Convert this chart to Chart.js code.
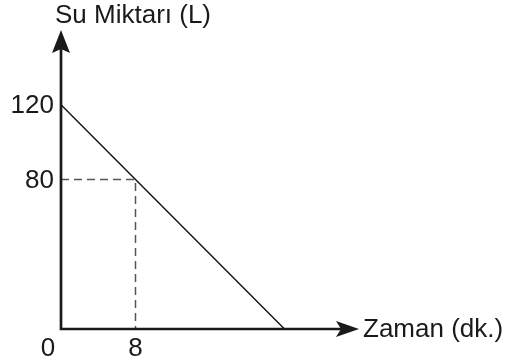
<!DOCTYPE html>
<html>
<head>
<meta charset="utf-8">
<script src="https://cdn.jsdelivr.net/npm/chart.js@4/dist/chart.umd.min.js"></script>
<style>
  html, body { margin: 0; padding: 0; background: #fff; }
  #wrap { width: 521px; height: 363px; position: relative; }
</style>
</head>
<body>
<div id="wrap"><canvas id="c" width="521" height="363"></canvas></div>
<script>
// ---- data ----
const timeValues = [0, 24];          // Zaman (dk.)
const waterValues = [120, 0];        // Su Miktarı (L)
const markTime = 8;
const markWater = 80;
const xTickValues = [8];
const yTickValues = [80, 120];
const originLabel = '0';
const yAxisTitle = 'Su Miktarı (L)';
const xAxisTitle = 'Zaman (dk.)';

const FONT = '26px "Liberation Sans", Arial, sans-serif';
const INK = '#1a1a1a';

const axesPlugin = {
  id: 'axesPlugin',
  afterDatasetsDraw(chart) {
    const ctx = chart.ctx;
    const xs = chart.scales.x, ys = chart.scales.y;
    const x0 = xs.getPixelForValue(0), y0 = ys.getPixelForValue(0);
    const xEnd = xs.right, yEnd = ys.top;
    ctx.save();
    // axis lines
    ctx.strokeStyle = INK; ctx.lineWidth = 2.7; ctx.lineCap = 'butt';
    ctx.beginPath();
    ctx.moveTo(x0, y0 + 1.35); ctx.lineTo(x0, yEnd + 18);
    ctx.moveTo(x0 - 1.35, y0); ctx.lineTo(xEnd - 18, y0);
    ctx.stroke();
    // arrow heads
    ctx.fillStyle = INK;
    ctx.beginPath();
    ctx.moveTo(x0, yEnd);
    ctx.lineTo(x0 + 9, yEnd + 23);
    ctx.lineTo(x0, yEnd + 19);
    ctx.lineTo(x0 - 9, yEnd + 23);
    ctx.closePath(); ctx.fill();
    ctx.beginPath();
    ctx.moveTo(xEnd, y0);
    ctx.lineTo(xEnd - 23, y0 - 8);
    ctx.lineTo(xEnd - 18, y0);
    ctx.lineTo(xEnd - 23, y0 + 8);
    ctx.closePath(); ctx.fill();
    // texts
    ctx.font = FONT; ctx.fillStyle = INK;
    ctx.textBaseline = 'middle';
    ctx.textAlign = 'right';
    yTickValues.forEach(v => ctx.fillText(String(v), x0 - 7, ys.getPixelForValue(v) + 1));
    ctx.textAlign = 'center';
    xTickValues.forEach(v => ctx.fillText(String(v), xs.getPixelForValue(v), y0 + 20));
    ctx.fillText(originLabel, x0 - 13, y0 + 20);
    ctx.fillText(yAxisTitle, x0 + 72, 16);
    ctx.textAlign = 'left';
    ctx.fillText(xAxisTitle, xEnd + 4, y0 + 1);
    ctx.restore();
  }
};

new Chart(document.getElementById('c'), {
  type: 'scatter',
  data: {
    datasets: [
      {
        data: timeValues.map((t, i) => ({ x: t, y: waterValues[i] })),
        showLine: true, borderColor: '#111', borderWidth: 1.4, pointRadius: 0, fill: false
      },
      {
        data: [{ x: 0, y: markWater }, { x: markTime, y: markWater }, { x: markTime, y: 0 }],
        showLine: true, borderColor: '#555', borderWidth: 1.5, borderDash: [8, 5], pointRadius: 0, fill: false
      }
    ]
  },
  options: {
    responsive: false,
    animation: false,
    layout: { padding: { left: 61, right: 162, top: 30, bottom: 34 } },
    plugins: { legend: { display: false }, tooltip: { enabled: false } },
    scales: {
      x: { type: 'linear', min: 0, max: 32, display: false },
      y: { type: 'linear', min: 0, max: 160, display: false }
    }
  },
  plugins: [axesPlugin]
});
</script>
</body>
</html>
